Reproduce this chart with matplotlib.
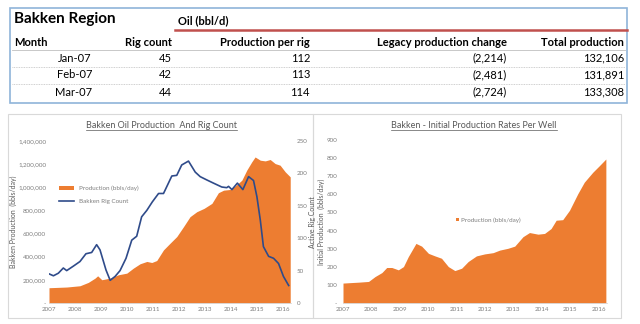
import matplotlib.pyplot as plt
import numpy as np
from matplotlib.lines import Line2D
from matplotlib.patches import Rectangle
from matplotlib.ticker import FuncFormatter, MultipleLocator

plt.rcParams['font.family'] = ['Lato', 'DejaVu Sans']

# summary table
months = ['Jan-07', 'Feb-07', 'Mar-07']
rig_count = [45, 42, 44]
prod_per_rig = [112, 113, 114]
legacy_change = [-2214, -2481, -2724]
total_production = [132106, 131891, 133308]

# Bakken oil production (bbl/d) and rig count, by decimal year
prod_years = [2007.00, 2007.68, 2008.19, 2008.51, 2008.77, 2008.87, 2009.03, 2009.35,
              2009.67, 2009.99, 2010.24, 2010.50, 2010.76, 2010.95, 2011.14, 2011.40,
              2011.65, 2011.91, 2012.17, 2012.42, 2012.68, 2012.96, 2013.26, 2013.51,
              2013.71, 2013.96, 2014.15, 2014.41, 2014.60, 2014.79, 2014.92, 2015.12,
              2015.31, 2015.50, 2015.69, 2015.88, 2016.08, 2016.27]
production = [132000, 138000, 149000, 178000, 215000, 235000, 201000, 215000,
              244000, 258000, 301000, 339000, 359000, 350000, 367000, 459000,
              516000, 574000, 660000, 746000, 789000, 818000, 861000, 953000,
              975000, 981000, 1010000, 1061000, 1148000, 1219000, 1262000, 1234000,
              1228000, 1240000, 1205000, 1191000, 1133000, 1090000]

rig_years = [2007.00, 2007.17, 2007.36, 2007.55, 2007.68, 2007.94, 2008.19, 2008.42,
             2008.64, 2008.83, 2008.96, 2009.19, 2009.35, 2009.54, 2009.73, 2009.96,
             2010.18, 2010.37, 2010.56, 2010.76, 2010.97, 2011.21, 2011.40, 2011.46,
             2011.72, 2011.91, 2012.10, 2012.36, 2012.62, 2012.81, 2013.06, 2013.32,
             2013.64, 2013.83, 2013.90, 2014.03, 2014.24, 2014.45, 2014.67, 2014.86,
             2014.99, 2015.12, 2015.24, 2015.44, 2015.63, 2015.82, 2016.01, 2016.21]
rigs = [45, 42, 46, 54, 50, 57, 64, 76,
        78, 90, 82, 51, 35, 41, 50, 69,
        97, 103, 133, 143, 156, 169, 169, 174,
        196, 197, 213, 219, 202, 195, 190, 185,
        179, 178, 180, 175, 185, 175, 195, 189,
        164, 128, 87, 72, 69, 61, 41, 27]

# initial production rate per well (bbl/d)
ip_years = [2007.00, 2007.32, 2007.55, 2007.90, 2008.13, 2008.37, 2008.54, 2008.72,
            2008.95, 2009.13, 2009.30, 2009.57, 2009.77, 2010.01, 2010.24, 2010.47,
            2010.71, 2010.94, 2011.18, 2011.41, 2011.70, 2011.99, 2012.29, 2012.52,
            2012.81, 2013.05, 2013.34, 2013.57, 2013.87, 2014.10, 2014.33, 2014.51,
            2014.74, 2014.98, 2015.27, 2015.50, 2015.80, 2016.03, 2016.26]
ip_rate = [110, 113, 115, 119, 146, 168, 196, 196,
           183, 201, 256, 329, 314, 274, 260, 247,
           201, 179, 192, 229, 260, 271, 278, 292,
           302, 314, 366, 389, 380, 384, 411, 457,
           460, 512, 603, 667, 722, 758, 795]

year_ticks = list(range(2007, 2017))

ORANGE = '#ed7d31'
NAVY = '#2f4b8a'
GREY = '#7f7f7f'
W, H = 640, 324


def px(x0, y0, x1, y1):
    # pixel box -> figure fraction rect
    return [x0 / W, 1 - y1 / H, (x1 - x0) / W, (y1 - y0) / H]


fig = plt.figure(figsize=(6.4, 3.24), dpi=100)

# background layer in pixel coordinates for the table and panel frames
ov = fig.add_axes([0, 0, 1, 1])
ov.set_xlim(0, W)
ov.set_ylim(H, 0)
ov.axis('off')

ov.add_patch(Rectangle((10, 8), 617, 95, fill=False, ec='#8fb4d9', lw=1.2))
ov.add_patch(Rectangle((8, 114), 305, 204, fill=False, ec='#d9d9d9', lw=0.8))
ov.add_patch(Rectangle((313, 114), 308, 204, fill=False, ec='#d9d9d9', lw=0.8))

ov.text(14, 19, 'Bakken Region', fontsize=11, fontweight='bold', va='center')
ov.text(178, 21, 'Oil (bbl/d)', fontsize=8, fontweight='bold', va='center')
ov.plot([175, 627], [30, 30], color='#c0504d', lw=1.8)

cols_x = [14, 172, 310, 507, 624]
headers = ['Month', 'Rig count', 'Production per rig', 'Legacy production change', 'Total production']
for i, h in enumerate(headers):
    ov.text(cols_x[i], 42, h, fontsize=8, fontweight='bold', va='center',
            ha='left' if i == 0 else 'right')
ov.plot([12, 625], [50, 50], color='#bfbfbf', lw=0.6)

row_y = [58, 75, 92]
for i in range(len(months)):
    y = row_y[i]
    ov.text(92, y, months[i], fontsize=8, ha='right', va='center')
    ov.text(cols_x[1], y, str(rig_count[i]), fontsize=8, ha='right', va='center')
    ov.text(cols_x[2], y, str(prod_per_rig[i]), fontsize=8, ha='right', va='center')
    ov.text(cols_x[3], y, '({:,})'.format(-legacy_change[i]), fontsize=8, ha='right', va='center')
    ov.text(cols_x[4], y, '{:,}'.format(total_production[i]), fontsize=8, ha='right', va='center')
    if i < len(months) - 1:
        ov.plot([12, 625], [y + 8.5, y + 8.5], color='#bfbfbf', lw=0.6, ls=(0, (1, 1)))


def dash_zero(fmt):
    return FuncFormatter(lambda v, p: '-' if v == 0 else fmt.format(v))


def style(ax):
    for s in ['top', 'left', 'right']:
        ax.spines[s].set_visible(False)
    ax.spines['bottom'].set_color('#d9d9d9')
    ax.spines['bottom'].set_linewidth(0.6)
    ax.tick_params(length=0, labelsize=4.5, labelcolor=GREY, pad=3)
    ax.tick_params(axis='y', pad=2)
    ax.set_facecolor('none')


# left chart: production area with rig count on a second axis
ax1 = fig.add_axes(px(49, 141, 291, 303))
ax1.fill_between(prod_years, production, color=ORANGE, lw=0, label='Production (bbls/day)')
ax1.set_xlim(2007, 2016.3)
ax1.set_ylim(0, 1400000)
ax1.yaxis.set_major_locator(MultipleLocator(200000))
ax1.yaxis.set_major_formatter(dash_zero('{:,.0f}'))
ax1.set_xticks(year_ticks)
ax1.set_ylabel('Bakken Production  (bbls/day)', fontsize=5, color='#595959', labelpad=1)
style(ax1)

ax2 = ax1.twinx()
ax2.plot(rig_years, rigs, color=NAVY, lw=1.2, label='Bakken Rig Count')
ax2.set_ylim(0, 250)
ax2.yaxis.set_major_locator(MultipleLocator(50))
ax2.set_ylabel('Active Rig Count', fontsize=5, color='#595959', labelpad=1)
style(ax2)
ax2.tick_params(axis='y', pad=4)
ax2.spines['bottom'].set_visible(False)

h1, l1 = ax1.get_legend_handles_labels()
h2, l2 = ax2.get_legend_handles_labels()
ax1.legend(h1 + h2, l1 + l2, loc='upper left', bbox_to_anchor=(0.02, 0.76), frameon=False,
           fontsize=4.5, labelcolor=GREY, handlelength=2.4, handleheight=0.6, labelspacing=1.2)

t1 = fig.text(161 / W, 1 - 126 / H, 'Bakken Oil Production  And Rig Count',
              fontsize=6.5, color='#595959', ha='center', va='center')

# right chart: initial production per well
ax3 = fig.add_axes(px(343, 140, 607, 303))
ax3.fill_between(ip_years, ip_rate, color=ORANGE, lw=0, label='Production (bbls/day)')
ax3.set_xlim(2007, 2016.3)
ax3.set_ylim(0, 900)
ax3.yaxis.set_major_locator(MultipleLocator(100))
ax3.yaxis.set_major_formatter(dash_zero('{:.0f}'))
ax3.set_xticks(year_ticks)
ax3.set_ylabel('Initial Production  (bbls/day)', fontsize=5, color='#595959', labelpad=1)
style(ax3)
ax3.tick_params(axis='y', pad=4)
ax3.legend(loc='center', bbox_to_anchor=(0.55, 0.51), frameon=False, fontsize=4.5,
           labelcolor=GREY, handlelength=0.5, handleheight=0.5, handletextpad=0.3)

t2 = fig.text(474 / W, 1 - 126 / H, 'Bakken - Initial Production Rates Per Well',
              fontsize=6.5, color='#595959', ha='center', va='center')

# underline the chart titles
fig.canvas.draw()
for t in (t1, t2):
    bb = t.get_window_extent().transformed(fig.transFigure.inverted())
    fig.add_artist(Line2D([bb.x0, bb.x1], [bb.y0 + 0.002, bb.y0 + 0.002],
                          transform=fig.transFigure, color='#595959', lw=0.5))

fig.savefig('out.png', dpi=100)
